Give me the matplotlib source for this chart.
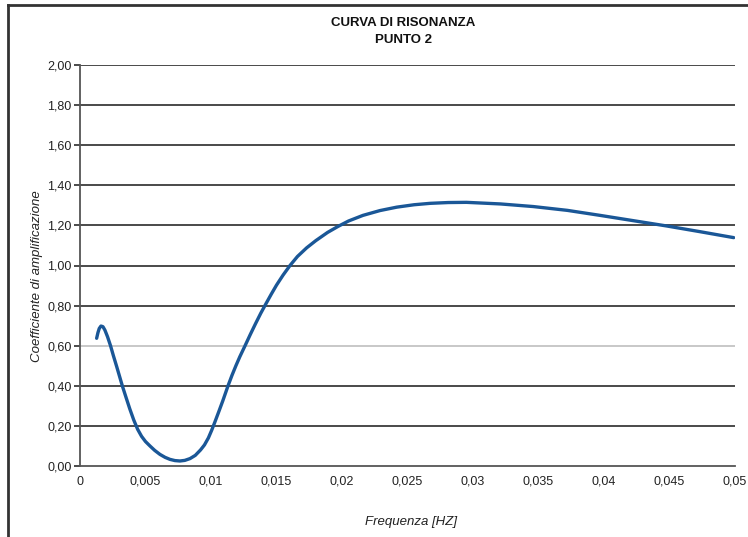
import matplotlib
matplotlib.use("Agg")
import matplotlib.pyplot as plt
from matplotlib.lines import Line2D

# Resonance curve, point 2
freq = [0.00127, 0.00137, 0.00147, 0.0016, 0.00175, 0.0019, 0.0021, 0.00233,
        0.00255, 0.0028, 0.00302, 0.00323, 0.0035, 0.0038, 0.0041, 0.0044,
        0.0047, 0.005, 0.00534, 0.0057, 0.0061, 0.0065, 0.00687, 0.00725,
        0.00763, 0.008, 0.0084, 0.0088, 0.0092, 0.0095, 0.0098, 0.01005,
        0.0103, 0.0106, 0.0109, 0.0113, 0.0116, 0.0119, 0.0122, 0.0126,
        0.0130, 0.0134, 0.0138, 0.0142, 0.0146, 0.0150, 0.0155, 0.01603,
        0.0166, 0.0173, 0.0180, 0.0189, 0.0197, 0.0205, 0.0216, 0.0229,
        0.02418, 0.0255, 0.02672, 0.0281, 0.0295, 0.0321, 0.0346, 0.0372,
        0.0397, 0.0422, 0.0448, 0.0473, 0.0499]
coeff = [0.637, 0.665, 0.686, 0.698, 0.695, 0.678, 0.645, 0.60,
         0.55, 0.496, 0.447, 0.40, 0.345, 0.285, 0.23, 0.183,
         0.148, 0.122, 0.10, 0.078, 0.058, 0.043, 0.033, 0.027,
         0.025, 0.028, 0.037, 0.053, 0.08, 0.105, 0.14, 0.178,
         0.22, 0.272, 0.325, 0.40, 0.452, 0.50, 0.545, 0.60,
         0.656, 0.71, 0.762, 0.81, 0.857, 0.902, 0.952, 1.00,
         1.045, 1.088, 1.124, 1.165, 1.195, 1.222, 1.25, 1.274,
         1.291, 1.303, 1.31, 1.314, 1.315, 1.307, 1.294, 1.275,
         1.25, 1.224, 1.197, 1.169, 1.139]

x_ticks = [0, 0.005, 0.01, 0.015, 0.02, 0.025, 0.03, 0.035, 0.04, 0.045, 0.05]
x_tick_labels = ["0", "0,005", "0,01", "0,015", "0,02", "0,025", "0,03",
                 "0,035", "0,04", "0,045", "0,05"]
y_ticks = [0.0, 0.2, 0.4, 0.6, 0.8, 1.0, 1.2, 1.4, 1.6, 1.8, 2.0]
y_tick_labels = ["0,00", "0,20", "0,40", "0,60", "0,80", "1,00", "1,20",
                 "1,40", "1,60", "1,80", "2,00"]

font = ["Liberation Sans", "DejaVu Sans"]
text_color = "#222222"

fig = plt.figure(figsize=(7.48, 5.37), dpi=100)
ax = fig.add_axes([80 / 748, 1 - 466 / 537, 655 / 748, 401 / 537])

ax.set_xlim(0, 0.05)
ax.set_ylim(0, 2.0)

grid_dark = "#3c3c3c"
for v in y_ticks[1:]:
    ax.axhline(v, color=("#c4c4c4" if abs(v - 0.6) < 1e-9 else grid_dark),
               lw=1.3, zorder=1)

ax.plot(freq, coeff, color="#1a5797", lw=2.4, solid_capstyle="round",
        solid_joinstyle="round", zorder=3)

for s in ("top", "right"):
    ax.spines[s].set_visible(False)
for s in ("left", "bottom"):
    ax.spines[s].set_color("#555555")
    ax.spines[s].set_linewidth(1.3)

ax.set_xticks(x_ticks)
ax.set_xticklabels(x_tick_labels, family=font, fontsize=9, color=text_color)
ax.set_yticks(y_ticks)
ax.set_yticklabels(y_tick_labels, family=font, fontsize=9, color=text_color)
ax.tick_params(axis="x", length=0, pad=7)
ax.tick_params(axis="y", length=4, width=1.3, color=grid_dark, pad=2)

# axis titles
fig.text(411 / 748, 1 - 522 / 537, "Frequenza [HZ]", ha="center", va="center",
         family=font, style="italic", fontsize=9.5, color=text_color)
fig.text(37 / 748, 1 - 276 / 537, "Coefficiente di amplificazione",
         ha="center", va="center", rotation=90, family=font, style="italic",
         fontsize=9.5, color=text_color)

fig.text(403 / 748, 1 - 31.5 / 537, "CURVA DI RISONANZA\nPUNTO 2", ha="center",
         va="center", family=font, fontweight="bold", fontsize=9.5,
         linespacing=1.55, color="#111111")

# outer chart frame (top and left edges)
fig.add_artist(Line2D([8 / 748, 8 / 748], [0, 1 - 5 / 537],
                      transform=fig.transFigure, color="#333333", lw=2))
fig.add_artist(Line2D([8 / 748, 1], [1 - 5 / 537, 1 - 5 / 537],
                      transform=fig.transFigure, color="#333333", lw=2))

fig.savefig("out.png", dpi=100)
